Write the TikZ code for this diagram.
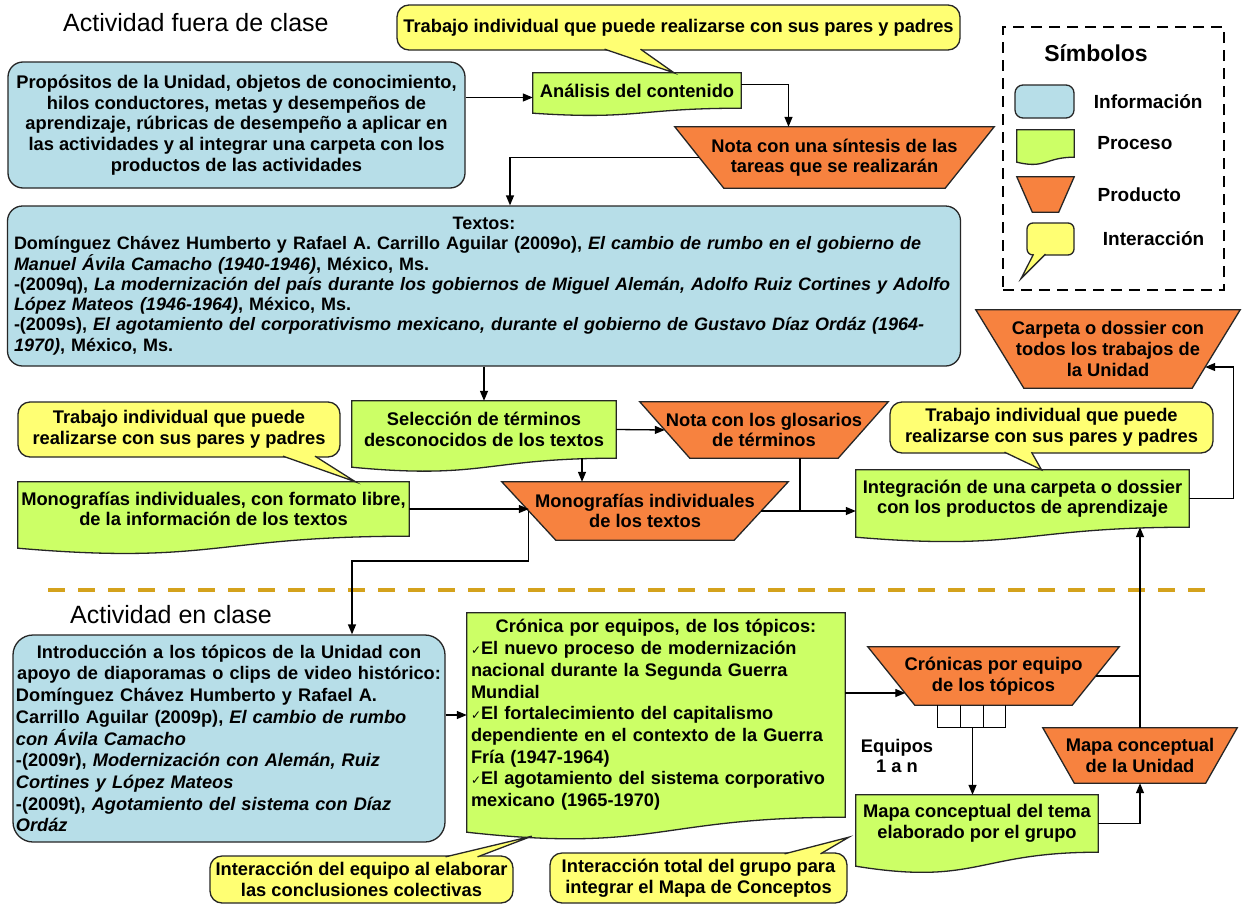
\documentclass[tikz,border=0pt]{standalone}
\usepackage{fontspec}
\setmainfont{Liberation Sans}
\newfontfamily\checkfont{DejaVu Sans}
\usepackage{tikz}
\usetikzlibrary{arrows.meta,positioning,calc,backgrounds}

\definecolor{infoblue}{HTML}{B7DEE8}
\definecolor{procgreen}{HTML}{CCFF66}
\definecolor{prodorange}{HTML}{F7823F}
\definecolor{callyellow}{HTML}{FFFF73}
\definecolor{sepgold}{HTML}{D4A21C}
\definecolor{darkline}{HTML}{262626}

\newcommand{\boxfont}{\bfseries\fontsize{18.3}{20.6}\selectfont}
\newcommand{\listfont}{\bfseries\fontsize{18.2}{21.7}\selectfont}
\newcommand{\chkmark}{{\checkfont\mdseries\fontsize{12}{12}\selectfont ✓}}

% green process: straight top, wavy bottom
\newcommand{\procshape}[2]{%
  \draw[shapeline, fill=procgreen] (#1.north west) -- (#1.north east) -- (#1.south east)
    .. controls (#1.south) and ($(#1.south)+(0,2.4*#2)$) .. ($(#1.south west)+(0,#2)$) -- cycle;}
% orange product: wide top, narrow bottom
\newcommand{\prodshape}[2]{%
  \draw[shapeline, fill=prodorange] ([xshift=-#2pt]#1.north west) -- ([xshift=#2pt]#1.north east)
    -- ([xshift=-#2pt]#1.south east) -- ([xshift=#2pt]#1.south west) -- cycle;}
% yellow callout pointer
\newcommand{\calltail}[3]{%
  \fill[callyellow] (#1) -- (#3) -- (#2) -- cycle;
  \draw[shapeline] (#1) -- (#3) -- (#2);}

\begin{document}
\begin{tikzpicture}[x=1pt, y=-1pt,
    txt/.style={font=\boxfont, align=center, inner sep=0pt},
    info/.style={txt, rectangle, rounded corners=15pt, draw=darkline, line width=1.3pt, fill=infoblue},
    proc/.style={txt, rectangle},
    prod/.style={txt, rectangle},
    call/.style={txt, rectangle, rounded corners=12pt, draw=darkline, line width=1.3pt, fill=callyellow},
    title/.style={font=\fontsize{25}{30}\selectfont, anchor=west, inner sep=0pt},
    legtext/.style={font=\bfseries\fontsize{19}{22}\selectfont, inner sep=0pt},
    shapeline/.style={draw=darkline, line width=1.3pt},
    link/.style={line width=1.3pt},
    arrow/.style={-{Stealth[length=10pt,width=8pt,inset=0pt]}, line width=1.3pt},
    sep/.style={draw=sepgold, line width=4pt, dash pattern=on 17pt off 13pt}]

    \useasboundingbox (0,0) rectangle (1242,905);

    % Actividad fuera de clase
    \node[title] (tfuera) at (63,23) {Actividad fuera de clase};
    \node[call, minimum width=563pt, minimum height=45pt] (ctop) at (678.5,27.5)
        {Trabajo individual que puede realizarse con sus pares y padres};
    \node[info, minimum width=457pt, minimum height=126pt] (info1) at (236.5,125)
        {Propósitos de la Unidad, objetos de conocimiento,\\ hilos conductores, metas y desempeños de\\
         aprendizaje, rúbricas de desempeño a aplicar en\\ las actividades y al integrar una carpeta con los\\
         productos de las actividades};
    \node[proc, minimum width=208pt, minimum height=35pt] (proc1) at (637,90.5) {Análisis del contenido};
    \node[prod, minimum width=270pt, minimum height=61pt] (nota1) at (834.5,157.5)
        {Nota con una síntesis de las\\ tareas que se realizarán};

    % Textos
    \node[info, font=\bfseries\fontsize{18}{20.3}\selectfont, text width=940pt, align=left,
          minimum width=953pt, minimum height=160pt] (info2) at (484,286)
        {{\centering Textos:\par}
         Domínguez Chávez Humberto y Rafael A. Carrillo Aguilar (2009o), \textit{El cambio de rumbo en el gobierno de}\\
         \textit{Manuel Ávila Camacho (1940-1946)}, México, Ms.\\
         -(2009q), \textit{La modernización del país durante los gobiernos  de Miguel Alemán, Adolfo Ruiz Cortines y Adolfo}\\
         \textit{López Mateos (1946-1964)}, México, Ms.\\
         -(2009s), \textit{El agotamiento del corporativismo mexicano, durante el gobierno de Gustavo Díaz Ordáz (1964-}\\
         \textit{1970)}, México, Ms.};

    % Glosarios y monografias
    \node[proc, minimum width=264pt, minimum height=57pt] (proc2) at (484,429.5)
        {Selección de términos\\ desconocidos de los textos};
    \node[prod, minimum width=198pt, minimum height=56pt] (nota2) at (764,430)
        {Nota con los glosarios\\ de términos};
    \node[call, minimum width=322pt, minimum height=55pt] (callL) at (179,429.5)
        {Trabajo individual que puede\\ realizarse con sus pares y padres};
    \node[proc, minimum width=391pt, minimum height=54pt] (proc3) at (213.5,509)
        {Monografías individuales, con formato libre,\\ de la información de los textos};
    \node[prod, minimum width=232pt, minimum height=58pt] (prod3) at (645,511)
        {Monografías individuales\\ de los textos};
    \node[proc, minimum width=333pt, minimum height=57pt] (integ) at (1022.5,498.5)
        {Integración de una carpeta o dossier\\ con los productos de aprendizaje};
    \node[call, minimum width=323pt, minimum height=51pt] (callR) at (1051.5,427.5)
        {Trabajo individual que puede\\ realizarse con sus pares y padres};
    \node[prod, minimum width=216pt, minimum height=78pt] (carp) at (1108,349)
        {Carpeta o dossier con\\ todos los trabajos de\\ la Unidad};

    % Simbolos
    \node[draw=black, line width=2.5pt, dash pattern=on 11pt off 7pt,
          minimum width=221pt, minimum height=263pt] (simb) at (1113.5,158.5) {};
    \node[font=\bfseries\fontsize{23}{26}\selectfont] (tsimb) at (1096,53) {Símbolos};
    \node[info, rounded corners=8pt, minimum width=59pt, minimum height=33pt] (icInfo) at (1044.5,101.5) {};
    \node[proc, minimum width=57pt, minimum height=27pt] (icProc) at (1045.5,143.5) {};
    \node[prod, minimum width=41.5pt, minimum height=35pt] (icProd) at (1045.5,194.5) {};
    \node[call, rounded corners=6pt, minimum width=47pt, minimum height=32pt] (icCall) at (1050.5,239) {};
    \node[legtext, right=19pt of icInfo] (lInfo) {Información};
    \node[legtext, right=23pt of icProc] (lProc) {Proceso};
    \node[legtext, right=31pt of icProd] (lProd) {Producto};
    \node[legtext, right=28pt of icCall] (lCall) {Interacción};

    % Actividad en clase
    \draw[sep] (48,590) -- (1212,590);
    \node[title] (tclase) at (70,615) {Actividad en clase};
    \node[info, rounded corners=20pt, font=\listfont, text width=426pt, align=left,
          minimum width=432pt, minimum height=207pt] (info3) at (229,738.5)
        {{\centering Introducción a los tópicos de la Unidad con\\ apoyo de diaporamas o clips de video histórico:\par}
         Domínguez Chávez Humberto y Rafael A.\\
         Carrillo Aguilar (2009p), \textit{El cambio de rumbo}\\
         \textit{con Ávila Camacho}\\
         -(2009r), \textit{Modernización con Alemán, Ruiz}\\
         \textit{Cortines y López Mateos}\\
         -(2009t), \textit{Agotamiento del sistema con Díaz}\\
         \textit{Ordáz}};
    \node[proc, font=\listfont, text width=370pt, align=left,
          minimum width=378pt, minimum height=204pt] (cron) at (656,715)
        {{\centering Crónica por equipos, de los tópicos:\par}
         \chkmark El nuevo proceso de modernización\\ nacional durante la Segunda Guerra\\ Mundial\\
         \chkmark El fortalecimiento del capitalismo\\ dependiente en el contexto de la Guerra\\ Fría (1947-1964)\\
         \chkmark El agotamiento del sistema corporativo\\ mexicano (1965-1970)};
    \node[call, minimum width=303pt, minimum height=47pt] (callB1) at (361.5,879.5)
        {Interacción del equipo al elaborar\\ las conclusiones colectivas};
    \node[call, minimum width=297pt, minimum height=50pt] (callB2) at (698.5,878)
        {Interacción total del grupo para\\ integrar el Mapa de Conceptos};
    \node[prod, minimum width=204pt, minimum height=58pt] (cronEq) at (993.5,676)
        {Crónicas por equipo\\ de los tópicos};
    \node[txt] (equipos) at (897,756) {Equipos\\ 1 a n};
    \node[proc, minimum width=242pt, minimum height=57pt] (mapaT) at (977,823.5)
        {Mapa conceptual del tema\\ elaborado por el grupo};
    \node[prod, minimum width=162.5pt, minimum height=55pt] (mapaU) at (1140,755.5)
        {Mapa conceptual\\ de la Unidad};

    % Shapes behind the texts
    \begin{scope}[on background layer]
        \fill[white] (0,0) rectangle (1242,905);
        \procshape{proc1}{5}
        \procshape{proc2}{9}
        \procshape{proc3}{12}
        \procshape{integ}{10}
        \procshape{cron}{15}
        \procshape{mapaT}{14}
        \procshape{icProc}{5}
        \prodshape{nota1}{24.5}
        \prodshape{nota2}{25}
        \prodshape{prod3}{27}
        \prodshape{carp}{24}
        \prodshape{cronEq}{23.5}
        \prodshape{mapaU}{15.75}
        \prodshape{icProd}{7.75}
    \end{scope}

    % Callout pointers
    \calltail{$(ctop.south)+(-74,-1.5)$}{$(ctop.south)+(-38,-1.5)$}{$(proc1.north)+(37,0)$}
    \calltail{$(callL.south)+(104,-1.5)$}{$(callL.south)+(136,-1.5)$}{$(proc3.north)+(142,0)$}
    \calltail{$(callR.south)+(-47,-1.5)$}{$(callR.south)+(-20,-1.5)$}{$(integ.north)+(19,0)$}
    \calltail{$(callB1.north)+(84,1.5)$}{$(callB1.north)+(116,1.5)$}{$(cron.south west)+(65,19)$}
    \calltail{$(callB2.north)+(86,1.5)$}{$(callB2.north)+(122,1.5)$}{$(mapaT.south west)+(-7,-15)$}
    \calltail{$(icCall.south)+(-17,-1.5)$}{$(icCall.south)+(-5,-1.5)$}{$(icCall.south)+(-29.5,23)$}

    % Arrows
    \coordinate (in1) at ([yshift=-7pt]proc1.west);
    \draw[arrow] (in1 -| info1.east) -- (in1);
    \draw[arrow] ([yshift=6pt]proc1.east) -| ([xshift=-46pt]nota1.north);
    \draw[arrow] (nota1.west) -| ([xshift=26pt]info2.north);
    \draw[arrow] (info2.south) -- (proc2.north);
    \draw[arrow] (proc2.east) -- (nota2.west);
    \coordinate (d2) at ([xshift=98pt]proc2.south);
    \draw[arrow] (d2) -- (d2 |- prod3.north);
    \draw[arrow] (proc3.east) -- (proc3.east -| prod3.west);
    \coordinate (drop) at (352,561);
    \draw[arrow] (prod3.west) |- (drop) -- (drop |- info3.north);
    \coordinate (d3) at ([xshift=36pt]nota2.south);
    \draw[link] (d3) -- (d3 |- prod3.east);
    \draw[arrow] (prod3.east) -- (prod3.east -| integ.west);
    \coordinate (in4) at ([shift={(-11,18)}]carp.east);
    \draw[arrow] (integ.east) -- ++(44,0) |- (in4);
    \draw[arrow] (cron.west -| info3.east) -- (cron.west);
    \coordinate (in5) at ([shift={(14,17)}]cronEq.west);
    \draw[arrow] (in5 -| cron.east) -- (in5);
    % Equipos 1 a n
    \draw[link] ([xshift=-56pt]cronEq.south) -- ++(0,22) -- ++(68,0) -- ++(0,-22);
    \draw[link] ([xshift=-33pt]cronEq.south) -- ++(0,22);
    \draw[link] ([xshift=-10pt]cronEq.south) -- ++(0,22);
    \coordinate (eqout) at ($(cronEq.south)+(-21,22)$);
    \draw[arrow] (eqout) -- (eqout |- mapaT.north);
    \draw[arrow] (mapaT.east) -| (mapaU.south);
    \draw[arrow] (mapaU.north) -- (mapaU.north |- integ.south);
    \draw[link] (cronEq.east) -- (cronEq.east -| mapaU.north);

\end{tikzpicture}
\end{document}
